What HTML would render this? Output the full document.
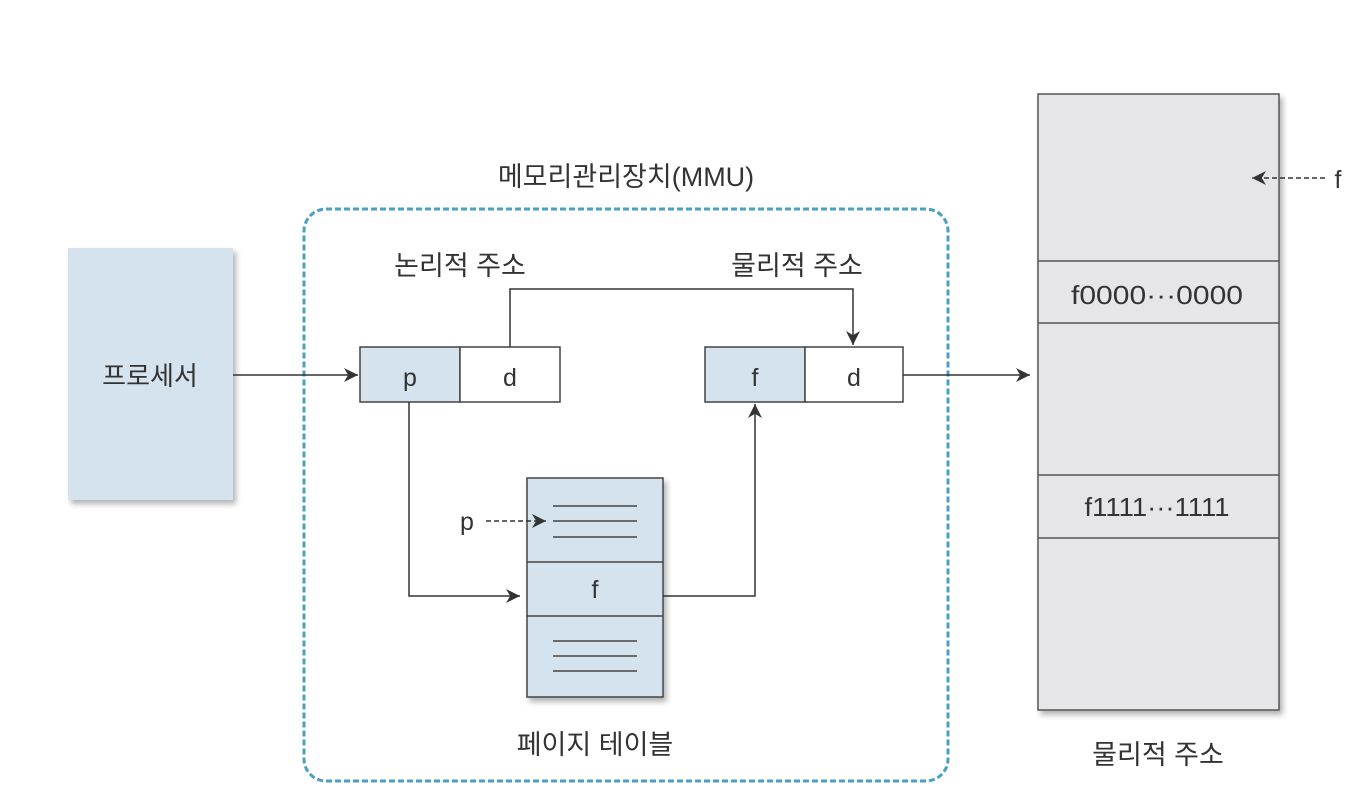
<!DOCTYPE html>
<html><head><meta charset="utf-8"><style>
html,body{margin:0;padding:0;background:#fff;}
svg text{font-family:"Liberation Sans","Noto Sans CJK KR",sans-serif;fill:#333;}
</style></head><body>
<svg width="1360" height="794" viewBox="0 0 1360 794" xmlns="http://www.w3.org/2000/svg">
<defs>
<marker id="ar" viewBox="0 0 10 10" refX="10" refY="5" markerWidth="14" markerHeight="14" markerUnits="userSpaceOnUse" orient="auto"><path d="M0,0 L10,5 L0,10 L3,5 z" fill="#333"/></marker>
<filter id="sh" x="-10%" y="-10%" width="130%" height="130%"><feDropShadow dx="3" dy="4" stdDeviation="3" flood-color="#000" flood-opacity="0.3"/></filter>
</defs>
<rect x="68" y="248" width="165" height="252" fill="#d4e3ed" filter="url(#sh)"/>
<text x="150" y="385" font-size="26" text-anchor="middle">프로세서</text>
<rect x="304" y="209" width="644" height="572" rx="22" fill="none" stroke="#4a9fc4" stroke-width="3" stroke-dasharray="6,3"/>
<text x="626" y="186" font-size="27" text-anchor="middle">메모리관리장치(MMU)</text>
<text x="460" y="275" font-size="27" text-anchor="middle">논리적 주소</text>
<text x="797" y="275" font-size="27" text-anchor="middle">물리적 주소</text>
<rect x="360" y="347" width="100" height="55" fill="#d4e3ed" stroke="#444" stroke-width="1.5"/>
<rect x="460" y="347" width="100" height="55" fill="#fff" stroke="#444" stroke-width="1.5"/>
<text x="410" y="386" font-size="25" text-anchor="middle">p</text>
<text x="510" y="386" font-size="25" text-anchor="middle">d</text>
<rect x="705" y="347" width="100" height="55" fill="#d4e3ed" stroke="#444" stroke-width="1.5"/>
<rect x="805" y="347" width="98" height="55" fill="#fff" stroke="#444" stroke-width="1.5"/>
<text x="755" y="386" font-size="25" text-anchor="middle">f</text>
<text x="854" y="386" font-size="25" text-anchor="middle">d</text>
<g filter="url(#sh)"><rect x="527" y="478" width="136" height="219" fill="#d4e3ed" stroke="#444" stroke-width="1.5"/></g>
<line x1="527" y1="562" x2="663" y2="562" stroke="#444" stroke-width="1.5"/>
<line x1="527" y1="616" x2="663" y2="616" stroke="#444" stroke-width="1.5"/>
<g stroke="#444" stroke-width="1.5">
<line x1="553" y1="506" x2="637" y2="506"/><line x1="553" y1="521" x2="637" y2="521"/><line x1="553" y1="537" x2="637" y2="537"/>
<line x1="553" y1="641" x2="637" y2="641"/><line x1="553" y1="656" x2="637" y2="656"/><line x1="553" y1="671" x2="637" y2="671"/>
</g>
<text x="595" y="598" font-size="25" text-anchor="middle">f</text>
<text x="467" y="530" font-size="25" text-anchor="middle">p</text>
<line x1="486" y1="521" x2="546" y2="521" stroke="#333" stroke-width="1.5" stroke-dasharray="5,3" marker-end="url(#ar)"/>
<text x="595" y="754" font-size="27" text-anchor="middle">페이지 테이블</text>
<g filter="url(#sh)"><rect x="1038" y="94" width="241" height="616" fill="#e6e6e8" stroke="#555" stroke-width="1.5"/></g>
<g stroke="#555" stroke-width="1.5">
<line x1="1038" y1="261" x2="1279" y2="261"/><line x1="1038" y1="323" x2="1279" y2="323"/>
<line x1="1038" y1="475" x2="1279" y2="475"/><line x1="1038" y1="538" x2="1279" y2="538"/>
</g>
<text x="1157" y="304" font-size="26" text-anchor="middle" textLength="172" lengthAdjust="spacingAndGlyphs">f0000···0000</text>
<text x="1157" y="516" font-size="26" text-anchor="middle" textLength="145" lengthAdjust="spacingAndGlyphs">f1111···1111</text>
<text x="1338" y="188" font-size="25" text-anchor="middle">f</text>
<line x1="1325" y1="178" x2="1252" y2="178" stroke="#333" stroke-width="1.5" stroke-dasharray="5,3" marker-end="url(#ar)"/>
<text x="1158" y="764" font-size="27" text-anchor="middle">물리적 주소</text>
<g fill="none" stroke="#333" stroke-width="1.5">
<line x1="233" y1="375" x2="358" y2="375" marker-end="url(#ar)"/>
<polyline points="409,402 409,596 520,596" marker-end="url(#ar)"/>
<polyline points="663,596 755,596 755,404" marker-end="url(#ar)"/>
<polyline points="510,347 510,289 853,289 853,345" marker-end="url(#ar)"/>
<line x1="903" y1="375" x2="1030" y2="375" marker-end="url(#ar)"/>
</g>
</svg>
</body></html>
